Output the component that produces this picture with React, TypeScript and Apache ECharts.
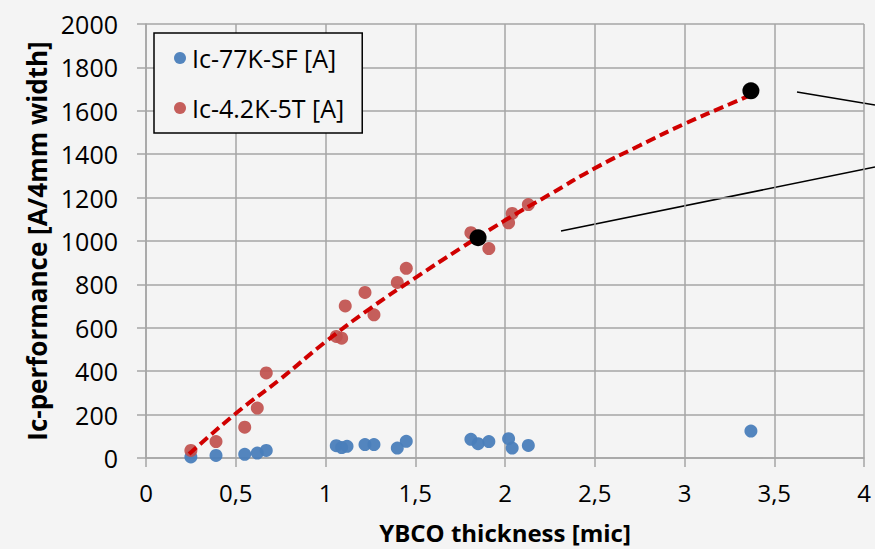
import React, { useEffect, useRef } from "react";
import * as echarts from "echarts";

const seriesNames = ["Ic-77K-SF [A]", "Ic-4.2K-5T [A]"];

const ic77kSF: [number, number][] = [
  [0.25, 5], [0.39, 12], [0.55, 17], [0.62, 23], [0.67, 35],
  [1.06, 57], [1.09, 48], [1.12, 54], [1.22, 62], [1.27, 62],
  [1.4, 46], [1.45, 77], [1.81, 86], [1.85, 66], [1.91, 76],
  [2.02, 89], [2.04, 46], [2.13, 58], [3.37, 124],
];

const ic42K5T: [number, number][] = [
  [0.25, 35], [0.39, 76], [0.55, 142], [0.62, 230], [0.67, 392],
  [1.06, 560], [1.09, 552], [1.11, 701], [1.22, 763], [1.27, 660],
  [1.4, 809], [1.45, 874], [1.81, 1038], [1.91, 965], [2.02, 1084],
  [2.04, 1127], [2.13, 1168],
];

const trendPoints: [number, number][] = [
  [0.24, 18], [0.5, 205], [0.75, 365], [1.0, 535], [1.25, 690],
  [1.5, 830], [1.75, 965], [2.0, 1095], [2.25, 1215], [2.5, 1335],
  [2.75, 1440], [3.0, 1540], [3.25, 1630], [3.36, 1670],
];

const highlighted: [number, number][] = [
  [1.85, 1015], [3.37, 1692],
];

const xAxisTitle = "YBCO thickness [mic]";
const yAxisTitle = "Ic-performance [A/4mm width]";

const FONT = "'Open Sans', 'Noto Sans', sans-serif";

export default function App() {
  const ref = useRef<HTMLDivElement>(null);
  useEffect(() => {
    if (!ref.current) return;
    const chart = echarts.init(ref.current, undefined, { renderer: "svg" });
    chart.setOption({
      animation: false,
      backgroundColor: "#f4f4f4",
      textStyle: { fontFamily: FONT },
      grid: { left: 146, right: 11, top: 24, bottom: 90, containLabel: false },
      legend: {
        data: seriesNames,
        orient: "vertical",
        left: 154,
        top: 33,
        padding: [10, 18, 10, 20],
        itemGap: 20,
        itemWidth: 14,
        itemHeight: 12,
        borderColor: "#000",
        borderWidth: 1.5,
        backgroundColor: "#f4f4f4",
        textStyle: { fontSize: 25, color: "#000", fontFamily: FONT, lineHeight: 30 },
      },
      xAxis: {
        type: "value",
        min: 0,
        max: 4,
        interval: 0.5,
        name: xAxisTitle,
        nameLocation: "middle",
        nameGap: 62,
        nameTextStyle: { fontSize: 24, fontWeight: "bold", color: "#000", fontFamily: FONT },
        axisLine: { show: true, lineStyle: { color: "#a6a6a6", width: 1.5 } },
        axisTick: { show: true, length: 9, lineStyle: { color: "#a6a6a6", width: 1.5 } },
        axisLabel: {
          fontSize: 24,
          color: "#000",
          margin: 22,
          formatter: (v: number) => String(v).replace(".", ","),
        },
        splitLine: { show: true, lineStyle: { color: "#a6a6a6", width: 1.5 } },
      },
      yAxis: {
        type: "value",
        min: 0,
        max: 2000,
        interval: 200,
        name: yAxisTitle,
        nameLocation: "middle",
        nameGap: 96,
        nameTextStyle: { fontSize: 26, fontWeight: "bold", color: "#000", fontFamily: FONT },
        axisLine: { show: true, lineStyle: { color: "#a6a6a6", width: 1.5 } },
        axisTick: { show: true, length: 9, lineStyle: { color: "#a6a6a6", width: 1.5 } },
        axisLabel: {
          fontSize: 25,
          color: "#000",
          margin: 28,
          formatter: (v: number) => String(v),
        },
        splitLine: { show: true, lineStyle: { color: "#a6a6a6", width: 1.5 } },
      },
      series: [
        {
          name: seriesNames[0],
          type: "scatter",
          data: ic77kSF,
          symbol: "circle",
          symbolSize: 13,
          itemStyle: { color: "#4a7ebb", opacity: 0.95 },
        },
        {
          name: seriesNames[1],
          type: "scatter",
          data: ic42K5T,
          symbol: "circle",
          symbolSize: 13,
          itemStyle: { color: "#c0504d", opacity: 0.92 },
        },
        {
          name: "trend",
          type: "line",
          data: trendPoints,
          smooth: true,
          showSymbol: false,
          symbol: "none",
          lineStyle: { color: "#d00000", width: 4, type: [10, 5] },
          z: 3,
        },
        {
          name: "highlight",
          type: "scatter",
          data: highlighted,
          symbol: "circle",
          symbolSize: 17,
          itemStyle: { color: "#000000", opacity: 1 },
          z: 4,
        },
      ],
      graphic: [
        {
          type: "line",
          shape: { x1: 797, y1: 92, x2: 875, y2: 105 },
          style: { stroke: "#000", lineWidth: 1.5 },
        },
        {
          type: "line",
          shape: { x1: 561, y1: 231, x2: 875, y2: 167 },
          style: { stroke: "#000", lineWidth: 1.5 },
        },
      ],
    });
    return () => chart.dispose();
  }, []);
  return (
    <div
      ref={ref}
      style={{ position: "absolute", left: 0, top: 0, width: 875, height: 549 }}
    />
  );
}
